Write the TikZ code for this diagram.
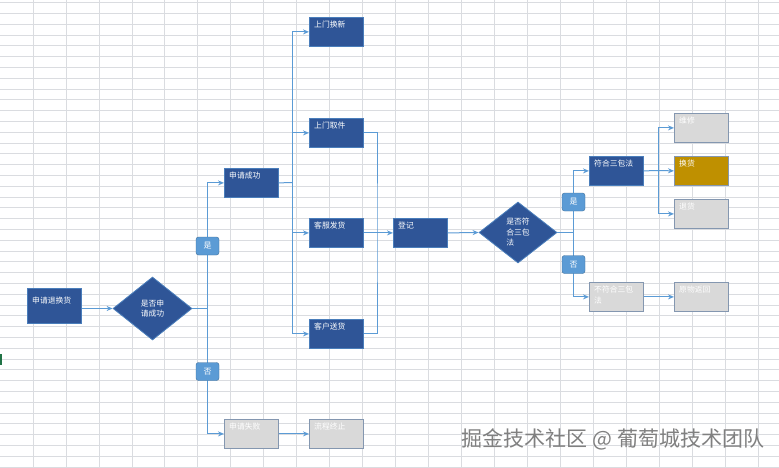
\documentclass[tikz,border=0pt]{standalone}
\usepackage{fontspec}
\newfontfamily\cjk{Noto Sans CJK SC}
\usetikzlibrary{shapes.geometric, arrows.meta}
\definecolor{boxblue}{HTML}{2F5597}
\definecolor{boxedge}{HTML}{4A7EBB}
\definecolor{linkblue}{HTML}{5B9BD5}
\definecolor{tagedge}{HTML}{41719C}
\definecolor{greyfill}{HTML}{D9D9D9}
\definecolor{greyedge}{HTML}{8497B0}
\definecolor{goldfill}{HTML}{BF9000}
\definecolor{gridgrey}{HTML}{DADCE0}
\definecolor{xlgreen}{HTML}{217346}

\begin{document}
\begin{tikzpicture}[x=1pt, y=-1pt, >={Stealth[length=6pt, width=5pt]},
    box/.style={draw=boxedge, fill=boxblue, line width=0.8pt, minimum width=54pt, minimum height=29pt, inner sep=0pt, anchor=north west},
    greybox/.style={box, draw=greyedge, fill=greyfill},
    goldbox/.style={box, draw=greyedge, fill=goldfill},
    boxtext/.style={anchor=north west, inner sep=0pt, xshift=5pt, yshift=-4pt, font=\cjk\fontsize{7.8}{11}\selectfont, text=white, align=left},
    txt/.style={label={[boxtext]north west:#1}},
    decide/.style={diamond, draw=boxedge, fill=boxblue, line width=0.8pt, inner sep=0pt, font=\cjk\fontsize{7.8}{10.5}\selectfont, text=white},
    tag/.style={draw=tagedge, fill=linkblue, rounded corners=2.5pt, minimum width=23pt, minimum height=18pt, inner sep=0pt, font=\cjk\fontsize{8}{9}\selectfont, text=white},
    link/.style={draw=linkblue, line width=1pt},
    gridline/.style={draw=gridgrey, line width=0.6pt}]
  \useasboundingbox (0,0) rectangle (779,468);
  \fill[white] (0,0) rectangle (779,468);
  \foreach \c in {1,...,23} \draw[gridline] (\c*32.95,0) -- (\c*32.95,468);
  \foreach \r in {0,...,43} \draw[gridline] (0,\r*10.8+2.5) -- (779,\r*10.8+2.5);
  \fill[xlgreen] (0,354) rectangle (2,365);

  \node[box, minimum height=35pt, label={[boxtext, yshift=-5pt]north west:申请退换货}] (apply) at (27,288) {};
  \node[decide, minimum width=79pt, minimum height=63pt, align=center] (d1) at (152.5,308.5) {是否申\\请成功};
  \node[box, txt=申请成功] (ok) at (224,168) {};
  \node[greybox, txt=申请失败] (fail) at (224,419) {};
  \node[greybox, txt=流程终止] (stop) at (309,419) {};
  \node[box, txt=上门换新] (home) at (309,17) {};
  \node[box, txt=上门取件] (pick) at (309,118) {};
  \node[box, txt=客服发货] (ship) at (309,218) {};
  \node[box, txt=客户送货] (send) at (309,319) {};
  \node[box, txt=登记] (reg) at (393,218) {};
  \node[decide, minimum width=78pt, minimum height=61pt, align=left] (d2) at (518,232.5) {是否符\\合三包\\法};
  \node[box, txt=符合三包法] (law) at (589,156) {};
  \node[greybox, txt={不符合三包\\法}] (nolaw) at (589,282) {};
  \node[greybox, txt=维修] (fix) at (674,113) {};
  \node[goldbox, txt=换货] (swap) at (674,156) {};
  \node[greybox, txt=退货] (back) at (674,199) {};
  \node[greybox, txt=原物返回] (ret) at (674,282) {};

  \coordinate (j1) at (207,308.5);
  \coordinate (j2) at (292,182.5);
  \coordinate (j3) at (377,233);
  \coordinate (j4) at (573,232.5);
  \coordinate (j5) at (658,170.5);

  \draw[link, ->] (apply.east |- j1) -- (d1.west);
  \draw[link] (d1.east) -- (j1);
  \draw[link, ->] (j1) |- (ok.west);
  \draw[link, ->] (j1) |- (fail.west);
  \draw[link, ->] (fail.east) -- (stop.west);
  \draw[link] (ok.east) -- (j2);
  \draw[link, ->] (j2) |- (home.west);
  \draw[link, ->] (j2) |- (pick.west);
  \draw[link, ->] (j2) |- (ship.west);
  \draw[link, ->] (j2) |- (send.west);
  \draw[link] (pick.east) -| (j3) |- (send.east);
  \draw[link, ->] (ship.east) -- (reg.west);
  \draw[link, ->] (reg.east) -- (d2.west);
  \draw[link] (d2.east) -- (j4);
  \draw[link, ->] (j4) |- (law.west);
  \draw[link, ->] (j4) |- (nolaw.west);
  \draw[link] (law.east) -- (j5);
  \draw[link, ->] (j5) |- (fix.west);
  \draw[link, ->] (j5) -- (swap.west);
  \draw[link, ->] (j5) |- (back.west);
  \draw[link, ->] (nolaw.east) -- (ret.west);

  \node[tag] (yes1) at (207.5,246) {是};
  \node[tag] (no1) at (207.5,371.5) {否};
  \node[tag] (yes2) at (573.5,202) {是};
  \node[tag] (no2) at (573.5,264.5) {否};

  \node[font=\cjk\fontsize{21}{24}\selectfont, text=black!50] (credit) at (613,439) {掘金技术社区 @ 葡萄城技术团队};
\end{tikzpicture}
\end{document}
